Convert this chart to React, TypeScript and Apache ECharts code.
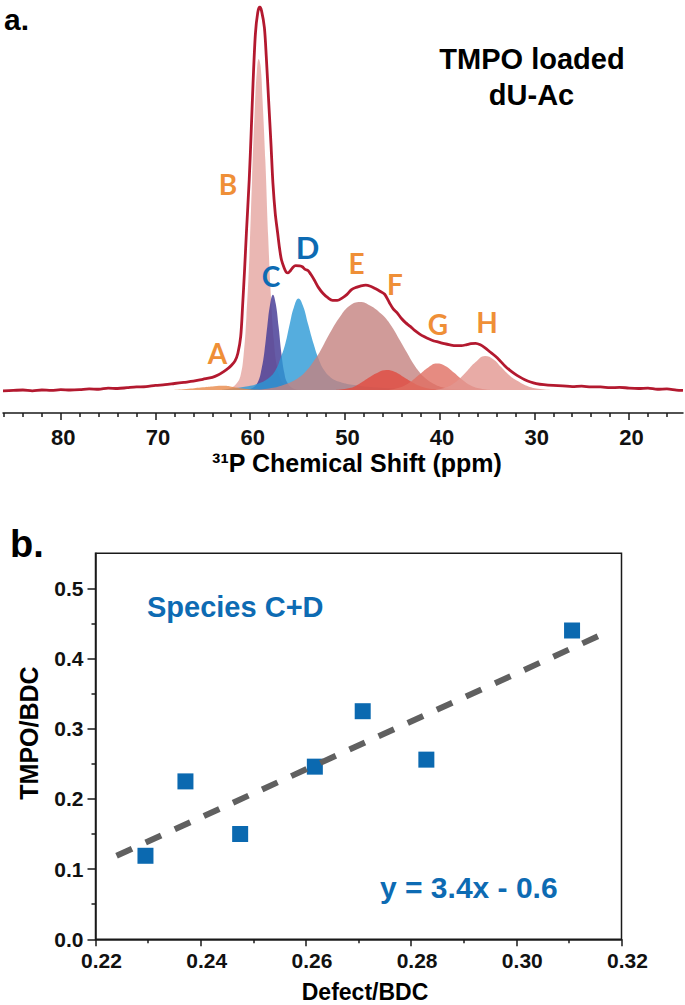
import React, { useEffect, useRef } from "react";
import * as echarts from "echarts";

// ---------- Panel a: 31P NMR spectrum (ppm, intensity) ----------
const envelope: [number, number][] = [
  [86.1, -0.2], [85, -0.1], [84, 0.0], [83, -0.2], [82, 0.0], [81, -0.1], [80, 0.1], [79, 0.0],
  [78, 0.1], [77, 0.3], [76, 0.2], [75, 0.5], [74, 0.4], [73, 0.6], [72, 0.8], [71, 0.9],
  [70, 1.2], [69, 1.4], [68, 1.7], [67, 2.0], [66, 2.3], [65, 2.8], [64, 3.3], [63.4, 3.9],
  [62.8, 4.8], [62.3, 5.7], [62.0, 6.4], [61.6, 7.6], [61.3, 9.6], [61.0, 14], [60.8, 22],
  [60.6, 31], [60.4, 41], [60.1, 55], [59.9, 67], [59.7, 80], [59.45, 93], [59.2, 98.6],
  [59.0, 100], [58.8, 99], [58.5, 94.6], [58.3, 87], [58.05, 75.5], [57.8, 64], [57.6, 54],
  [57.35, 46], [57.1, 41], [56.9, 37], [56.7, 34], [56.4, 31.8], [56.2, 30.8], [56.0, 30.6],
  [55.8, 31], [55.5, 32], [55.2, 32.5], [54.8, 32.4], [54.5, 32.2], [54.2, 31.5], [53.9, 31.2],
  [53.6, 30.2], [53.2, 28.6], [52.8, 26.8], [52.3, 25.2], [51.8, 24.1], [51.3, 23.4], [50.8, 23.4],
  [50.3, 24.0], [49.8, 24.9], [49.3, 26.2], [48.8, 26.8], [48.3, 27.2], [47.8, 27.4], [47.3, 27.1],
  [46.8, 26.5], [46.3, 25.8], [45.8, 25.0], [45.3, 22.8], [44.9, 21.2], [44.5, 20.2], [44.0, 18.6],
  [43.6, 17.6], [43.1, 16.6], [42.6, 15.5], [42.1, 14.6], [41.6, 13.9], [41.1, 13.3], [40.6, 12.8],
  [40.1, 12.5], [39.5, 12.1], [38.9, 11.8], [38.3, 11.6], [37.7, 11.6], [37.2, 11.8], [36.7, 12.1],
  [36.2, 12.2], [35.7, 11.8], [35.2, 11.0], [34.7, 10.0], [34.1, 8.8], [33.6, 7.6], [33.1, 6.3],
  [32.6, 5.2], [32.1, 4.3], [31.6, 3.5], [31.0, 2.7], [30.4, 2.1], [29.8, 1.7], [29.0, 1.4],
  [28.0, 1.2], [27.0, 1.1], [26.0, 0.9], [25.0, 1.0], [24.0, 0.8], [23.0, 0.8], [22.0, 0.6],
  [21.0, 0.7], [20.0, 0.5], [19.0, 0.4], [18.0, 0.5], [17.0, 0.2], [16.0, 0.3], [15.0, 0.0], [14.3, -0.1],
];

const peakA: [number, number][] = [
  [68, 0], [66.5, 0.3], [65, 0.7], [63.8, 1.0], [62.8, 1.1], [61.8, 0.8], [60.8, 0.4], [59.5, 0.1], [58, 0],
];
const peakB: [number, number][] = [
  [63, 0], [62, 0.6], [61.4, 1.8], [61, 4], [60.7, 9], [60.4, 19], [60.1, 34], [59.8, 55], [59.5, 74],
  [59.3, 83], [59.1, 86.4], [58.9, 84.5], [58.7, 76], [58.4, 60], [58.1, 40], [57.8, 24], [57.5, 13],
  [57.2, 6.5], [56.8, 3], [56.3, 1.2], [55.5, 0.4], [54.5, 0],
];
const peakC: [number, number][] = [
  [60.4, 0], [59.7, 0.6], [59.2, 2], [58.8, 5.5], [58.5, 10], [58.2, 16.5], [57.9, 22.3], [57.6, 24.9],
  [57.3, 22.5], [57.0, 16.5], [56.7, 9.5], [56.4, 4.5], [56.1, 2], [55.6, 0.6], [55, 0],
];
const peakD: [number, number][] = [
  [63, 0], [61.5, 0.5], [60, 1.1], [59, 1.8], [58, 3.2], [57.3, 5.3], [56.8, 8.3], [56.3, 12],
  [55.8, 17.5], [55.4, 21.5], [54.9, 23.9], [54.4, 21.8], [53.9, 17.3], [53.3, 12], [52.8, 8.3],
  [52.2, 5.2], [51.5, 3.3], [50.5, 2.1], [49, 1.3], [47, 0.7], [44, 0.3], [40, 0.1], [37, 0],
];
const peakE: [number, number][] = [
  [60, 0], [58, 0.4], [56.5, 1.3], [55, 3], [54, 5.2], [53.3, 7.5], [52.6, 10.2], [51.6, 14.8],
  [50.5, 19.2], [49.5, 22], [48.4, 23], [47.3, 22], [46.2, 20], [45.6, 18.5], [44.9, 16], [44.2, 13],
  [43.5, 10], [42.8, 7], [42.2, 4.9], [41.7, 3.5], [40.7, 1.7], [39.5, 0.6], [38, 0.15], [36, 0],
];
const peakF: [number, number][] = [
  [51, 0], [49.5, 0.5], [48.5, 1.6], [47.5, 3.2], [46.5, 4.6], [45.6, 5.2], [44.7, 4.7], [43.8, 3.4],
  [42.8, 1.9], [41.8, 0.8], [40.5, 0.2], [39, 0],
];
const peakG: [number, number][] = [
  [45.5, 0], [44.3, 0.6], [43.2, 1.9], [42.2, 3.9], [41.2, 5.9], [40.3, 6.9], [39.4, 6.3], [38.5, 4.6],
  [37.6, 2.7], [36.7, 1.2], [35.7, 0.4], [34.5, 0],
];
const peakH: [number, number][] = [
  [40.5, 0], [39.3, 0.7], [38.2, 2.3], [37.2, 4.7], [36.2, 7.3], [35.2, 8.9], [34.3, 8], [33.5, 6],
  [32.7, 4], [31.8, 2.4], [30.8, 1.1], [29.6, 0.3], [28.3, 0],
];

const shiftMajorTicks = [20, 30, 40, 50, 60, 70, 80];
const shiftMinorTicks = [
  16, 18, 22, 24, 26, 28, 32, 34, 36, 38, 42, 44, 46, 48, 52, 54, 56, 58,
  62, 64, 66, 68, 72, 74, 76, 78, 82, 84, 86,
];

// ---------- Panel b: scatter ----------
const defectBDC = [0.2295, 0.2371, 0.2475, 0.2617, 0.2708, 0.2829, 0.3106];
const tmpoBDC = [0.119, 0.225, 0.15, 0.246, 0.325, 0.256, 0.44];
const fitX = [0.224, 0.3156];
const fitY = [0.119, 0.432];

const xMajorTicks = [0.22, 0.24, 0.26, 0.28, 0.3, 0.32];
const xMinorTicks = [0.23, 0.25, 0.27, 0.29, 0.31];
const yMajorTicks = [0, 0.1, 0.2, 0.3, 0.4, 0.5];
const yMinorTicks = [0.05, 0.15, 0.25, 0.35, 0.45];

const ORANGE = "#ef8f37";
const BLUE = "#0d6bb3";
const AX = "#1a1a1a";
const SANS = "'Liberation Sans', Arial, sans-serif";
const LATO = "Lato, 'Open Sans', sans-serif";

function areaSeries(data: [number, number][], color: string, opacity: number) {
  return {
    type: "line",
    xAxisIndex: 0,
    yAxisIndex: 0,
    data,
    smooth: 0.45,
    symbol: "none",
    silent: true,
    lineStyle: { width: 0 },
    itemStyle: { color },
    areaStyle: { color, opacity },
  };
}

function letter(text: string, x: number, y: number, color: string, size = 28) {
  return {
    type: "text",
    x,
    y,
    z: 100,
    style: {
      text,
      fill: color,
      fontSize: size,
      fontWeight: "bold",
      fontFamily: LATO,
      lineHeight: size,
      align: "center",
      verticalAlign: "middle",
      textAlign: "center",
      textVerticalAlign: "middle",
    },
  };
}

function label(
  text: string,
  x: number,
  y: number,
  size: number,
  color: string,
  align = "center",
  rotation = 0,
  lineHeight = size
) {
  return {
    type: "text",
    x,
    y,
    rotation,
    z: 100,
    style: {
      text,
      fill: color,
      fontSize: size,
      fontWeight: "bold",
      fontFamily: SANS,
      lineHeight,
      align,
      verticalAlign: "middle",
      textAlign: align,
      textVerticalAlign: "middle",
    },
  };
}

export default function App() {
  const ref = useRef<HTMLDivElement>(null);

  useEffect(() => {
    if (!ref.current) return;
    const chart = echarts.init(ref.current, undefined, { renderer: "svg" });

    const topGrid = { left: 3, top: 7, width: 680, height: 406 };
    const botGrid = { left: 95.5, top: 553.3, width: 526, height: 386 };

    const tickLabelStyle = {
      fontSize: 22,
      fontWeight: "bold",
      fontFamily: SANS,
      color: "#111",
    };

    chart.setOption({
      animation: false,
      grid: [
        { ...topGrid },
        { ...botGrid, show: true, borderColor: AX, borderWidth: 1.5, backgroundColor: "transparent" },
        { ...topGrid },
        { ...botGrid },
      ],
      xAxis: [
        {
          type: "value",
          gridIndex: 0,
          min: 14.3,
          max: 86.1,
          inverse: true,
          axisLine: { show: true, onZero: false, lineStyle: { color: AX, width: 1.5 } },
          axisTick: { show: true, customValues: shiftMajorTicks, length: 7, lineStyle: { color: AX, width: 1.5 } },
          axisLabel: { ...tickLabelStyle, lineHeight: 18, customValues: shiftMajorTicks, margin: 15, padding: [0, 0, 0, 5] },
          splitLine: { show: false },
        },
        {
          type: "value",
          gridIndex: 1,
          min: 0.22,
          max: 0.32,
          axisLine: { show: true, onZero: false, lineStyle: { color: AX, width: 1.5 } },
          axisTick: { show: true, customValues: xMajorTicks, length: 7, lineStyle: { color: AX, width: 1.5 } },
          axisLabel: {
            ...tickLabelStyle,
            fontSize: 21,
            customValues: xMajorTicks,
            margin: 11,
            padding: [0, 0, 0, 12],
            formatter: (v: number) => v.toFixed(2),
          },
          splitLine: { show: false },
        },
        {
          type: "value",
          gridIndex: 2,
          min: 14.3,
          max: 86.1,
          inverse: true,
          axisLine: { show: false, onZero: false },
          axisTick: { show: true, customValues: shiftMinorTicks, length: 4, lineStyle: { color: AX, width: 1.5 } },
          axisLabel: { show: false },
          splitLine: { show: false },
        },
        {
          type: "value",
          gridIndex: 3,
          min: 0.22,
          max: 0.32,
          axisLine: { show: false, onZero: false },
          axisTick: { show: true, customValues: xMinorTicks, length: 4, lineStyle: { color: AX, width: 1.5 } },
          axisLabel: { show: false },
          splitLine: { show: false },
        },
      ],
      yAxis: [
        { type: "value", gridIndex: 0, min: -6, max: 100, show: false },
        {
          type: "value",
          gridIndex: 1,
          min: 0,
          max: 0.55,
          axisLine: { show: true, onZero: false, lineStyle: { color: AX, width: 1.5 } },
          axisTick: { show: true, customValues: yMajorTicks, length: 8, lineStyle: { color: AX, width: 1.5 } },
          axisLabel: {
            ...tickLabelStyle,
            fontSize: 21,
            customValues: yMajorTicks,
            margin: 12,
            formatter: (v: number) => v.toFixed(1),
          },
          splitLine: { show: false },
        },
        { type: "value", gridIndex: 2, min: -6, max: 100, show: false },
        {
          type: "value",
          gridIndex: 3,
          min: 0,
          max: 0.55,
          axisLine: { show: false, onZero: false },
          axisTick: { show: true, customValues: yMinorTicks, length: 4, lineStyle: { color: AX, width: 1.5 } },
          axisLabel: { show: false },
          splitLine: { show: false },
        },
      ],
      series: [
        areaSeries(peakB, "#e6aaa6", 0.85),
        areaSeries(peakC, "#4a3f98", 0.85),
        areaSeries(peakD, "#2a98d6", 0.8),
        areaSeries(peakE, "#c48280", 0.8),
        areaSeries(peakF, "#e04a3e", 0.8),
        areaSeries(peakG, "#e06e62", 0.8),
        areaSeries(peakH, "#e29690", 0.8),
        areaSeries(peakA, "#e8894a", 0.8),
        {
          type: "line",
          xAxisIndex: 0,
          yAxisIndex: 0,
          data: envelope,
          smooth: 0.3,
          symbol: "none",
          silent: true,
          lineStyle: { color: "#b3192f", width: 2.8 },
          z: 5,
        },
        {
          type: "scatter",
          xAxisIndex: 1,
          yAxisIndex: 1,
          data: defectBDC.map((x, i) => [x, tmpoBDC[i]]),
          symbol: "rect",
          symbolSize: 16,
          itemStyle: { color: "#0b69b0", opacity: 1 },
          z: 3,
        },
        {
          type: "line",
          xAxisIndex: 1,
          yAxisIndex: 1,
          data: fitX.map((x, i) => [x, fitY[i]]),
          symbol: "none",
          silent: true,
          lineStyle: { color: "#606060", width: 6, type: [17, 15] },
          z: 4,
        },
      ],
      graphic: [
        label("a.", 4, 19, 30, "#000", "left"),
        label("TMPO loaded", 532, 59, 29, "#000"),
        label("dU-Ac", 531.5, 95, 29, "#000"),
        letter("A", 217.5, 353, ORANGE),
        letter("B", 228, 184, ORANGE),
        letter("C", 271, 276, BLUE),
        letter("D", 307.5, 246.5, BLUE, 31),
        letter("E", 356.5, 263, ORANGE),
        letter("F", 395, 284, ORANGE),
        letter("G", 438, 324, ORANGE),
        letter("H", 487, 322, ORANGE),
        label("\u00B3\u00B9P Chemical Shift (ppm)", 357, 463, 25, "#000"),
        label("b.", 10, 543.5, 38, "#000", "left"),
        label("Species C+D", 147, 606.5, 29, BLUE, "left"),
        label("y = 3.4x - 0.6", 380, 887.5, 30, BLUE, "left"),
        label("TMPO/BDC", 28.6, 733, 25, "#000", "center", Math.PI / 2),
        label("Defect/BDC", 365, 992, 23, "#000"),
      ],
    });

    return () => chart.dispose();
  }, []);

  return (
    <div
      ref={ref}
      style={{ position: "absolute", left: 0, top: 0, width: 685, height: 1005, background: "#fff" }}
    />
  );
}
